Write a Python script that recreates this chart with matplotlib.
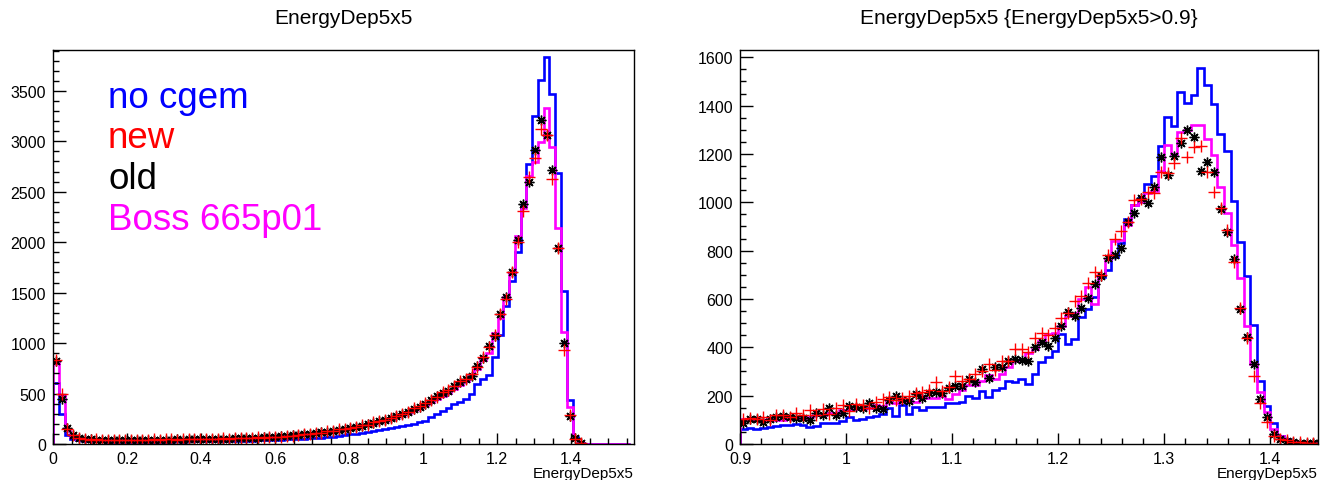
import numpy as np
import matplotlib.pyplot as plt
from matplotlib.ticker import MultipleLocator, FuncFormatter

plt.rcParams['font.family'] = ['Liberation Sans', 'DejaVu Sans']

# ---- left panel: EnergyDep5x5, 100 bins of 0.0156 ----
left_bin_width = 0.0156
left_nbins = 100

blue_l = [600, 300, 90, 50, 35, 30, 28, 25, 25, 22,
          22, 20, 20, 20, 22, 20, 22, 22, 24, 22,
          24, 25, 24, 26, 25, 27, 26, 28, 28, 30,
          30, 30, 32, 33, 34, 35, 36, 38, 40, 42,
          45, 48, 50, 52, 55, 60, 62, 65, 70, 78,
          85, 95, 100, 108, 115, 125, 135, 145, 155, 165,
          175, 185, 200, 215, 231, 270, 300, 330, 360, 400,
          420, 450, 495, 594, 640, 684, 858, 1079, 1370, 1617,
          1898, 2360, 2775, 3251, 3610, 3840, 3472, 2690, 1518, 440,
          66, 5]

magenta_l = [800, 490, 140, 70, 50, 45, 42, 40, 38, 38,
             37, 38, 37, 38, 40, 39, 40, 40, 41, 42,
             42, 43, 43, 44, 44, 46, 46, 48, 49, 49,
             51, 52, 54, 55, 57, 59, 62, 64, 67, 71,
             75, 80, 85, 90, 95, 100, 108, 115, 123, 132,
             140, 150, 162, 175, 188, 200, 215, 230, 248, 265,
             285, 308, 335, 360, 385, 415, 450, 480, 510, 545,
             585, 620, 680, 740, 830, 900, 1100, 1250, 1460, 1690,
             2060, 2340, 2660, 2790, 2990, 3335, 2940, 2145, 1115, 370,
             50, 5]

red_l = [830, 495, 150, 90, 62, 48, 44, 45, 40, 42,
         40, 38, 42, 40, 40, 44, 42, 45, 40, 46,
         45, 43, 47, 45, 48, 46, 50, 49, 52, 55,
         52, 56, 55, 60, 58, 65, 63, 70, 72, 74,
         82, 84, 92, 96, 104, 108, 112, 125, 128, 145,
         150, 160, 165, 185, 190, 215, 230, 235, 262, 280,
         300, 318, 352, 375, 405, 440, 470, 515, 535, 570,
         625, 640, 690, 760, 860, 960, 1080, 1290, 1440, 1700,
         2000, 2310, 2647, 2832, 3119, 3063, 2624, 1941, 930, 290,
         45, 10]

black_l = [825, 445, 160, 85, 60, 50, 45, 42, 40, 40,
           38, 40, 38, 40, 42, 40, 43, 40, 42, 44,
           42, 45, 44, 46, 45, 48, 47, 50, 52, 50,
           53, 55, 57, 56, 60, 62, 65, 68, 70, 75,
           78, 85, 90, 95, 100, 105, 115, 120, 130, 140,
           145, 155, 170, 180, 195, 210, 225, 240, 255, 275,
           295, 320, 345, 370, 396, 439, 478, 505, 528, 577,
           610, 647, 673, 772, 855, 971, 1072, 1287, 1452, 1700,
           2020, 2376, 2601, 2911, 3208, 3063, 2716, 1941, 1001, 281,
           56, 8]

# ---- right panel: EnergyDep5x5 > 0.9, bins of 0.00625 ----
right_xmin = 0.9
right_bin_width = 0.00625
right_nbins = 88

blue_r = [62, 65, 60, 65, 72, 75, 78, 80, 82, 78,
          72, 75, 85, 88, 85, 95, 110, 100, 105, 110,
          115, 125, 150, 115, 160, 125, 155, 140, 155, 155,
          155, 168, 170, 175, 200, 190, 220, 195, 225, 230,
          260, 258, 270, 250, 290, 340, 360, 385, 455, 415,
          435, 525, 560, 610, 690, 720, 775, 830, 930, 990,
          1017, 1076, 1110, 1234, 1352, 1317, 1458, 1410, 1444, 1554,
          1486, 1407, 1283, 1214, 1007, 834, 694, 492, 262, 159,
          86, 34, 20, 10, 6, 4, 3, 2]

magenta_r = [105, 105, 100, 100, 102, 100, 98, 105, 105, 108,
             112, 118, 122, 128, 130, 140, 140, 145, 145, 150,
             160, 158, 172, 168, 178, 182, 175, 198, 192, 190,
             200, 185, 205, 225, 245, 245, 260, 285, 270, 290,
             320, 345, 345, 375, 395, 425, 455, 460, 490, 530,
             540, 600, 648, 579, 700, 765, 841, 845, 905, 990,
             1000, 1040, 1045, 1131, 1237, 1200, 1292, 1297, 1320, 1320,
             1262, 1196, 1062, 956, 823, 686, 490, 331, 214, 131,
             62, 34, 20, 12, 8, 6, 5, 5]

red_r = [105, 108, 105, 110, 100, 120, 118, 110, 130, 118,
         140, 118, 145, 125, 150, 160, 135, 165, 160, 150,
         172, 185, 195, 180, 190, 200, 210, 215, 225, 255,
         220, 235, 280, 262, 270, 290, 300, 330, 305, 345,
         345, 395, 395, 380, 440, 460, 450, 480, 520, 540,
         590, 612, 665, 710, 700, 780, 850, 880, 920, 1010,
         1014, 1041, 1038, 1124, 1121, 1163, 1268, 1189, 1228, 1232,
         1127, 1044, 975, 887, 754, 561, 437, 283, 170, 90,
         34, 22, 15, 10, 8, 6, 5, 4]

black_r = [85, 105, 102, 92, 105, 112, 115, 112, 108, 106,
           100, 128, 118, 148, 120, 130, 158, 155, 148, 170,
           150, 146, 180, 198, 182, 178, 205, 192, 212, 215,
           210, 232, 238, 240, 268, 258, 310, 275, 318, 320,
           345, 352, 348, 342, 400, 420, 405, 440, 490, 545,
           528, 561, 603, 662, 697, 768, 782, 810, 917, 956,
           1017, 997, 1065, 1189, 1113, 1193, 1244, 1297, 1272, 1128,
           1168, 1124, 972, 876, 766, 559, 444, 331, 186, 110,
           40, 20, 14, 8, 6, 5, 4, 3]

legend_labels = ['no cgem', 'new', 'old', 'Boss 665p01']

BLUE = '#0000ff'
MAGENTA = '#ff00ff'
RED = '#ff0000'
W, H = 1329, 481


def pad(values, n):
    return np.array(list(values) + [0] * (n - len(values)), dtype=float)


def draw_panel(ax, edges, blue, magenta, red, black):
    centers = 0.5 * (edges[:-1] + edges[1:])
    ax.stairs(blue, edges, color=BLUE, lw=1.9, baseline=0)
    ax.stairs(magenta, edges, color=MAGENTA, lw=1.9, baseline=0)
    m = black > 0
    ax.plot(centers[m], black[m], ls='none', marker=(8, 2, 0), ms=7,
            mec='black', mew=1.0)
    m = red > 0
    ax.plot(centers[m], red[m], ls='none', marker='+', ms=9,
            mec=RED, mew=1.0)


def style_axes(ax, xmaj, xmin_, ymaj, ymin_):
    ax.xaxis.set_major_locator(MultipleLocator(xmaj))
    ax.xaxis.set_minor_locator(MultipleLocator(xmin_))
    ax.yaxis.set_major_locator(MultipleLocator(ymaj))
    ax.yaxis.set_minor_locator(MultipleLocator(ymin_))
    fmt = FuncFormatter(lambda v, p: '%g' % round(v, 6))
    ax.xaxis.set_major_formatter(fmt)
    ax.yaxis.set_major_formatter(fmt)
    ax.tick_params(which='both', direction='in', top=False, right=False,
                   labelsize=11.5, width=1.0)
    ax.tick_params(axis='y', which='major', length=9, pad=5)
    ax.tick_params(axis='y', which='minor', length=4.5)
    ax.tick_params(axis='x', which='major', length=8, pad=5)
    ax.tick_params(axis='x', which='minor', length=4)
    for s in ax.spines.values():
        s.set_linewidth(1.0)


def main():
    fig = plt.figure(figsize=(W / 100, H / 100), dpi=100)

    # left panel
    ax1 = fig.add_axes([53 / W, 36 / H, 581 / W, 394 / H])
    edges_l = np.arange(left_nbins + 1) * left_bin_width
    draw_panel(ax1, edges_l, pad(blue_l, left_nbins), pad(magenta_l, left_nbins),
               pad(red_l, left_nbins), pad(black_l, left_nbins))
    ax1.set_xlim(0, 1.57)
    ax1.set_ylim(0, 3905)
    style_axes(ax1, 0.2, 0.05, 500, 100)

    # right panel
    ax2 = fig.add_axes([740 / W, 36 / H, 578 / W, 394 / H])
    edges_r = right_xmin + np.arange(right_nbins + 1) * right_bin_width
    draw_panel(ax2, edges_r, pad(blue_r, right_nbins), pad(magenta_r, right_nbins),
               pad(red_r, right_nbins), pad(black_r, right_nbins))
    ax2.set_xlim(0.9, 1.445)
    ax2.set_ylim(0, 1630)
    style_axes(ax2, 0.1, 0.02, 200, 50)

    # titles
    fig.text((53 + 634) / 2 / W, 1 - 18 / H, 'EnergyDep5x5', ha='center',
             va='center', fontsize=15)
    fig.text((740 + 1318) / 2 / W, 1 - 18 / H, 'EnergyDep5x5 {EnergyDep5x5>0.9}',
             ha='center', va='center', fontsize=15)

    # x axis labels at the bottom right, below the tick labels
    fig.text(634 / W, 1 - 474 / H, 'EnergyDep5x5', ha='right', va='center',
             fontsize=11)
    fig.text(1318 / W, 1 - 474 / H, 'EnergyDep5x5', ha='right', va='center',
             fontsize=11)

    # legend texts
    colors = [BLUE, RED, 'black', MAGENTA]
    baselines = [108, 148, 189, 230]
    for lab, c, yb in zip(legend_labels, colors, baselines):
        fig.text(108 / W, 1 - yb / H, lab, color=c, fontsize=26.5,
                 ha='left', va='baseline')

    fig.savefig('out.png', dpi=100)


if __name__ == '__main__':
    main()
